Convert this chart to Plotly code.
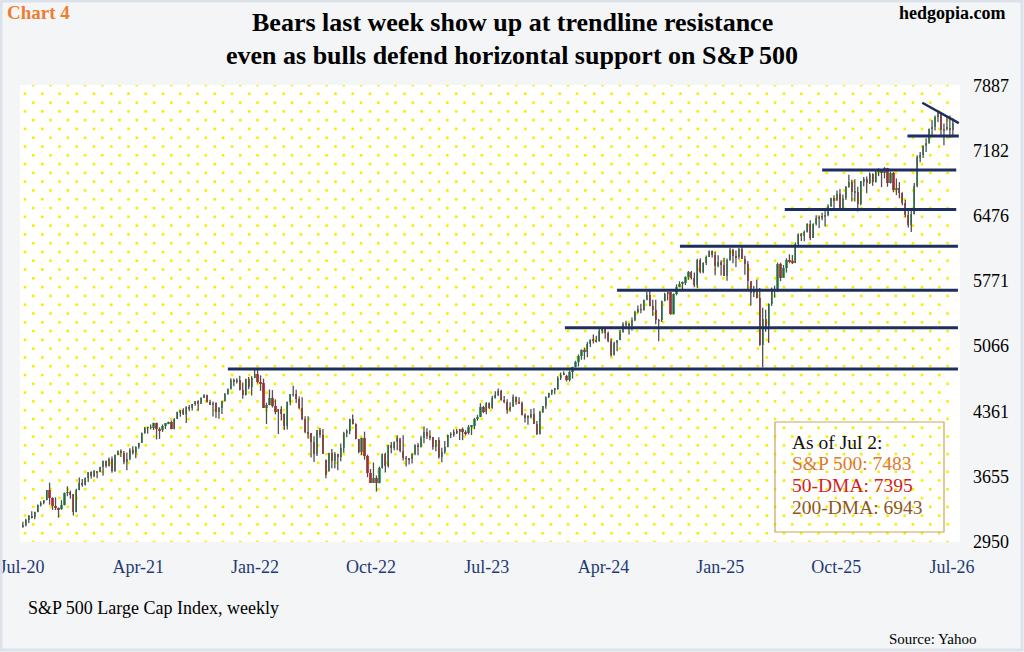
import numpy as np
import pandas as pd
import plotly.graph_objects as go

# S&P 500 weekly bars (week ending Friday), Jul 2020 - Jul 2026
first_week = "2020-07-03"

opens = [
    # 2020
    3105, 3130, 3185, 3224, 3215, 3271, 3351, 3373, 3397, 3508, 3427, 3341, 3319, 3298, 3348, 3477, 3483, 3465, 3270,
    3510, 3585, 3558, 3638, 3699, 3663, 3709, 3703,
    # 2021
    3756, 3825, 3768, 3841, 3714, 3887, 3934, 3907, 3811, 3842, 3943, 3913, 3975, 4020, 4129, 4185, 4180, 4181, 4233,
    4174, 4156, 4204, 4230, 4247, 4166, 4281, 4352, 4370, 4327, 4412, 4395, 4437, 4468, 4442, 4509, 4535, 4459, 4433,
    4455, 4357, 4391, 4471, 4545, 4605, 4697, 4682, 4698, 4595, 4538, 4712, 4620, 4726,
    # 2022
    4766, 4677, 4663, 4398, 4432, 4501, 4419, 4349, 4385, 4329, 4204, 4463, 4543, 4546, 4488, 4392, 4272, 4132, 4123,
    4023, 3901, 4158, 4109, 3838, 3715, 3912, 3825, 3899, 3863, 3962, 4130, 4145, 4280, 4228, 4057, 3924, 4067, 3873,
    3693, 3586, 3640, 3583, 3752, 3901, 3771, 3993, 3965, 4026, 4072, 3934, 3852, 3845,
    # 2023
    3840, 3895, 3999, 3973, 4071, 4136, 4090, 4079, 3970, 4046, 3862, 3917, 3971, 4109, 4105, 4138, 4133, 4169, 4136,
    4124, 4192, 4205, 4282, 4299, 4410, 4348, 4450, 4399, 4505, 4536, 4582, 4478, 4464, 4370, 4406, 4516, 4457, 4450,
    4320, 4288, 4309, 4327, 4224, 4117, 4358, 4415, 4514, 4559, 4595, 4604, 4719, 4755,
    # 2024
    4745, 4697, 4784, 4840, 4891, 4959, 5027, 5006, 5089, 5137, 5124, 5117, 5234, 5254, 5204, 5123, 4967, 5100, 5128,
    5223, 5303, 5305, 5278, 5347, 5431, 5465, 5460, 5567, 5615, 5505, 5459, 5346, 5344, 5554, 5634, 5648, 5408, 5626,
    5703, 5738, 5751, 5815, 5865, 5808, 5729, 5995, 5870, 5969, 6032, 6090, 6051, 5931,
    # 2025
    5971, 5942, 5827, 5997, 6101, 6041, 6026, 6115, 6013, 5955, 5770, 5639, 5668, 5581, 5074, 5363, 5283, 5525, 5687,
    5660, 5958, 5802, 5912, 6000, 5977, 5968, 6173, 6279, 6260, 6297, 6389, 6238, 6389, 6450, 6467, 6460, 6482, 6584,
    6664, 6644, 6716, 6553, 6664, 6792, 6840, 6729, 6734,
    # Nov 2025 - Jul 2026
    6603, 6849, 6870, 6830, 6930, 6840, 6950, 6960, 6940, 6990, 6830, 6935, 6760, 6780, 6720, 6610, 6480, 6380, 6500,
    6800, 7110, 7130, 7230, 7260, 7410, 7440, 7550, 7590, 7400, 7420, 7430, 7400,
]

highs = [
    3165, 3198, 3238, 3280, 3272, 3352, 3387, 3399, 3509, 3588, 3430, 3429, 3320, 3398, 3482, 3550, 3502, 3466, 3521,
    3645, 3628, 3644, 3699, 3712, 3726, 3712, 3760,
    3827, 3828, 3861, 3870, 3894, 3935, 3950, 3931, 3914, 3960, 3983, 3981, 4020, 4130, 4191, 4195, 4218, 4238, 4238,
    4187, 4218, 4233, 4249, 4261, 4286, 4355, 4372, 4393, 4415, 4429, 4440, 4468, 4480, 4513, 4545, 4540, 4486, 4465,
    4457, 4407, 4475, 4559, 4608, 4718, 4714, 4718, 4744, 4672, 4713, 4731, 4740, 4808,
    4818, 4749, 4714, 4453, 4596, 4590, 4490, 4385, 4416, 4337, 4465, 4546, 4637, 4593, 4521, 4513, 4308, 4307, 4124,
    4090, 4158, 4180, 4169, 3838, 3913, 3951, 3919, 3900, 4013, 4140, 4167, 4280, 4325, 4230, 4062, 4076, 4140, 3891,
    3736, 3807, 3666, 3762, 3902, 3911, 3993, 4029, 4034, 4100, 4052, 4101, 3877, 3850,
    3906, 4004, 4016, 4095, 4195, 4176, 4156, 4081, 4049, 4079, 3965, 4039, 4110, 4133, 4163, 4170, 4170, 4185, 4155,
    4213, 4212, 4290, 4322, 4448, 4420, 4458, 4456, 4528, 4578, 4607, 4594, 4527, 4490, 4458, 4541, 4520, 4511, 4467,
    4338, 4317, 4385, 4394, 4256, 4366, 4418, 4521, 4560, 4596, 4609, 4739, 4779, 4793,
    4755, 4802, 4843, 4907, 4975, 5030, 5048, 5111, 5140, 5190, 5179, 5262, 5265, 5264, 5225, 5149, 5114, 5128, 5239,
    5325, 5341, 5316, 5376, 5447, 5506, 5524, 5570, 5655, 5669, 5566, 5566, 5360, 5556, 5643, 5651, 5651, 5636, 5734,
    5767, 5765, 5822, 5878, 5878, 5862, 6012, 6017, 5972, 6045, 6099, 6100, 6086, 6050,
    5994, 6022, 6014, 6128, 6120, 6101, 6127, 6147, 6043, 5986, 5759, 5715, 5787, 5695, 5482, 5460, 5528, 5700, 5720,
    5969, 5968, 5944, 6016, 6059, 6051, 6188, 6284, 6290, 6316, 6395, 6427, 6395, 6481, 6480, 6508, 6532, 6601, 6671,
    6699, 6750, 6765, 6706, 6799, 6920, 6866, 6870, 6790,
    6853, 6895, 6901, 6945, 6935, 6960, 6990, 6975, 7002, 6995, 6955, 6950, 6880, 6840, 6730, 6650, 6560, 6540, 6830,
    7130, 7165, 7240, 7315, 7420, 7510, 7560, 7600, 7600, 7475, 7560, 7560, 7530,
]

lows = [
    3100, 3115, 3152, 3200, 3192, 3268, 3329, 3355, 3397, 3350, 3293, 3292, 3209, 3294, 3342, 3441, 3415, 3233, 3268,
    3506, 3545, 3558, 3594, 3633, 3647, 3636, 3700,
    3663, 3749, 3764, 3694, 3705, 3886, 3865, 3786, 3723, 3830, 3894, 3853, 3955, 4020, 4118, 4118, 4165, 4157, 4056,
    4061, 4137, 4168, 4220, 4165, 4165, 4278, 4300, 4321, 4233, 4360, 4368, 4420, 4367, 4441, 4505, 4456, 4429, 4305,
    4289, 4279, 4330, 4465, 4540, 4595, 4630, 4660, 4585, 4495, 4532, 4600, 4531, 4720,
    4662, 4582, 4395, 4222, 4425, 4401, 4327, 4115, 4260, 4157, 4162, 4425, 4521, 4450, 4382, 4267, 4124, 4063, 3859,
    3811, 3876, 4074, 3901, 3637, 3705, 3743, 3743, 3722, 3820, 3913, 4079, 4112, 4218, 4057, 3906, 3886, 3837, 3647,
    3584, 3585, 3491, 3580, 3740, 3698, 3751, 3906, 3938, 3938, 3918, 3828, 3764, 3784,
    3795, 3885, 3885, 3969, 4015, 4060, 4048, 3943, 3928, 3847, 3808, 3901, 3971, 4069, 4086, 4114, 4049, 4048, 4099,
    4109, 4104, 4166, 4258, 4297, 4341, 4328, 4384, 4389, 4500, 4526, 4474, 4448, 4335, 4356, 4414, 4431, 4448, 4316,
    4238, 4216, 4283, 4223, 4104, 4108, 4342, 4388, 4505, 4537, 4546, 4593, 4699, 4751,
    4682, 4682, 4714, 4835, 4845, 4918, 4920, 4946, 5057, 5094, 5104, 5114, 5203, 5146, 5107, 4953, 4963, 5011, 5128,
    5211, 5257, 5191, 5234, 5335, 5420, 5420, 5447, 5562, 5497, 5391, 5303, 5119, 5327, 5550, 5560, 5403, 5406, 5615,
    5703, 5674, 5726, 5783, 5786, 5703, 5697, 5853, 5853, 5944, 6030, 6024, 5832, 5920,
    5829, 5825, 5773, 5990, 5962, 5923, 6003, 6008, 5837, 5667, 5505, 5598, 5581, 5069, 4835, 5220, 5101, 5500, 5590,
    5650, 5768, 5809, 5861, 5963, 5953, 5963, 6150, 6202, 6201, 6295, 6212, 6235, 6372, 6343, 6427, 6360, 6471, 6570,
    6551, 6635, 6550, 6541, 6646, 6780, 6631, 6631, 6521,
    6590, 6795, 6720, 6820, 6800, 6835, 6905, 6785, 6880, 6790, 6825, 6730, 6700, 6665, 6590, 6460, 6350, 6300, 6490,
    6785, 7055, 7100, 7165, 7255, 7350, 7400, 7490, 7350, 7240, 7400, 7320, 7325,
]

closes = [
    3130, 3185, 3224, 3215, 3271, 3351, 3373, 3397, 3508, 3427, 3341, 3319, 3298, 3348, 3477, 3483, 3465, 3270, 3510,
    3585, 3558, 3638, 3699, 3663, 3709, 3703, 3756,
    3825, 3768, 3841, 3714, 3887, 3934, 3907, 3811, 3842, 3943, 3913, 3975, 4020, 4129, 4185, 4180, 4181, 4233, 4174,
    4156, 4204, 4230, 4247, 4166, 4281, 4352, 4370, 4327, 4412, 4395, 4437, 4468, 4442, 4509, 4535, 4459, 4433, 4455,
    4357, 4391, 4471, 4545, 4605, 4697, 4682, 4698, 4595, 4538, 4712, 4620, 4726, 4766,
    4677, 4663, 4398, 4432, 4501, 4419, 4349, 4385, 4329, 4204, 4463, 4543, 4546, 4488, 4392, 4272, 4132, 4123, 4023,
    3901, 4158, 4109, 3901, 3675, 3912, 3825, 3899, 3863, 3962, 4130, 4145, 4280, 4228, 4057, 3924, 4067, 3873, 3693,
    3586, 3640, 3583, 3752, 3901, 3771, 3993, 3965, 4026, 4072, 3934, 3852, 3845, 3840,
    3895, 3999, 3973, 4071, 4136, 4090, 4079, 3970, 4046, 3862, 3917, 3971, 4109, 4105, 4138, 4133, 4169, 4136, 4124,
    4192, 4205, 4282, 4299, 4410, 4348, 4450, 4399, 4505, 4536, 4582, 4478, 4464, 4370, 4406, 4516, 4457, 4450, 4320,
    4288, 4309, 4327, 4224, 4117, 4358, 4415, 4514, 4559, 4595, 4604, 4719, 4755, 4770,
    4697, 4784, 4840, 4891, 4959, 5027, 5006, 5089, 5137, 5124, 5117, 5234, 5254, 5204, 5123, 4967, 5100, 5128, 5223,
    5303, 5305, 5278, 5347, 5431, 5465, 5460, 5567, 5615, 5505, 5459, 5346, 5344, 5554, 5634, 5648, 5408, 5626, 5703,
    5738, 5751, 5815, 5865, 5808, 5729, 5995, 5870, 5969, 6032, 6090, 6051, 5931, 5971,
    5942, 5827, 5997, 6101, 6041, 6026, 6115, 6013, 5955, 5770, 5639, 5668, 5581, 5074, 5363, 5283, 5525, 5687, 5660,
    5958, 5802, 5912, 6000, 5977, 5968, 6173, 6279, 6260, 6297, 6389, 6238, 6389, 6450, 6467, 6460, 6482, 6584, 6664,
    6644, 6716, 6553, 6664, 6792, 6840, 6729, 6734, 6603,
    6849, 6870, 6830, 6930, 6840, 6950, 6960, 6940, 6990, 6830, 6935, 6760, 6780, 6720, 6610, 6480, 6380, 6500, 6800,
    7110, 7130, 7230, 7260, 7410, 7440, 7550, 7590, 7400, 7420, 7430, 7400, 7483,
]

# support / resistance lines drawn on the chart
level_values = [4818, 5265, 5670, 6147, 6545, 6970, 7338]
level_starts = ["2021-10-29", "2024-01-01", "2024-05-03", "2024-09-28", "2025-06-02", "2025-08-29", "2026-03-18"]
level_ends = ["2026-07-15", "2026-07-15", "2026-07-15", "2026-07-15", "2026-07-11", "2026-07-11", "2026-07-17"]
trend_dates = ["2026-04-22", "2026-07-17"]
trend_values = [7699, 7479]

y_ticks = [2950, 3655, 4361, 5066, 5771, 6476, 7182, 7887]
x_tick_dates = ["2020-07-01", "2021-04-01", "2022-01-01", "2022-10-01", "2023-07-01",
                "2024-04-01", "2025-01-01", "2025-10-01", "2026-07-01"]
x_tick_labels = ["Jul-20", "Apr-21", "Jan-22", "Oct-22", "Jul-23", "Apr-24", "Jan-25", "Oct-25", "Jul-26"]

box_lines = ["As of Jul 2:", "S&P 500: 7483", "50-DMA: 7395", "200-DMA: 6943"]
box_colors = ["#111111", "#e0782e", "#d21f26", "#8e5622"]

FONT = "Liberation Serif"
W, H = 1024, 652
L, R, T, B = 20, 960, 85, 542  # plot area in pixels

def px_x(p):
    return (p - L) / (R - L)

def px_y(p):
    return (B - p) / (B - T)

dates = pd.date_range(first_week, periods=len(closes), freq="7D")

# yellow dotted background (staggered grid)
dot_x, dot_y = [], []
n_rows = 53
for r in range(n_rows):
    py = T + r * (B - T) / (n_rows - 1)
    px = 33.3 if r % 2 == 0 else 25.0
    while px <= 952:
        dot_x.append(px_x(px))
        dot_y.append(px_y(py))
        px += 17.25

dots = go.Scatter(x=dot_x, y=dot_y, mode="markers", xaxis="x", yaxis="y",
                  marker=dict(symbol="square", size=2.6, color="#f5ee00", line=dict(width=0)),
                  hoverinfo="skip", showlegend=False)

# high-low wicks
wx, wy = [], []
for d, h, l in zip(dates, highs, lows):
    wx += [d, d, None]
    wy += [l, h, None]
wicks = go.Scatter(x=wx, y=wy, mode="lines", xaxis="x2", yaxis="y2",
                   line=dict(color="#505050", width=1.3), hoverinfo="skip", showlegend=False)

# open-close bodies
body_base = [min(o, c) for o, c in zip(opens, closes)]
body_len = [abs(c - o) for o, c in zip(opens, closes)]
body_col = ["#3cba6f" if c >= o else "#f03a3a" for o, c in zip(opens, closes)]
bodies = go.Bar(x=dates, y=body_len, base=body_base, xaxis="x2", yaxis="y2",
                width=5.2 * 86400000, marker=dict(color=body_col, line=dict(width=0)),
                hoverinfo="skip", showlegend=False)

fig = go.Figure(data=[dots, wicks, bodies])

shapes = []
for v, s, e in zip(level_values, level_starts, level_ends):
    shapes.append(dict(type="line", xref="x2", yref="y2", x0=s, x1=e, y0=v, y1=v,
                       line=dict(color="#1d2f5f", width=3)))
shapes.append(dict(type="line", xref="x2", yref="y2", x0=trend_dates[0], x1=trend_dates[1],
                   y0=trend_values[0], y1=trend_values[1], line=dict(color="#1d2f5f", width=2.5)))
# info box
shapes.append(dict(type="rect", xref="paper", yref="paper", x0=px_x(775), x1=px_x(944),
                   y0=px_y(532), y1=px_y(422), line=dict(color="#c9a65e", width=1.2)))
# outer frame
shapes.append(dict(type="rect", xref="paper", yref="paper", x0=px_x(1), x1=px_x(1022),
                   y0=px_y(650), y1=px_y(1), line=dict(color="#dce2ea", width=3)))

ann = [
    dict(text="<b>Bears last week show up at trendline resistance</b>", x=px_x(512), y=px_y(22),
         font=dict(size=26, color="black")),
    dict(text="<b>even as bulls defend horizontal support on S&P 500</b>", x=px_x(512), y=px_y(55),
         font=dict(size=26, color="black")),
    dict(text="<b>Chart 4</b>", x=px_x(5), y=px_y(13), xanchor="left",
         font=dict(size=19, color="#ee7d31")),
    dict(text="<b>hedgopia.com</b>", x=px_x(1008), y=px_y(13), xanchor="right",
         font=dict(size=18, color="black")),
    dict(text="S&P 500 Large Cap Index, weekly", x=px_x(26), y=px_y(608), xanchor="left",
         font=dict(size=18, color="black")),
    dict(text="Source: Yahoo", x=px_x(979), y=px_y(639), xanchor="right",
         font=dict(size=15, color="black")),
]
for txt, col, py in zip(box_lines, box_colors, [442, 463, 485, 507]):
    ann.append(dict(text=txt, x=px_x(790), y=px_y(py), xanchor="left", font=dict(size=19.5, color=col)))
for a in ann:
    a.update(xref="paper", yref="paper", showarrow=False, yanchor=a.get("yanchor", "middle"))
    a["font"]["family"] = FONT

fig.update_layout(
    width=W, height=H,
    margin=dict(l=L, r=W - R, t=T, b=H - B, pad=0, autoexpand=False),
    paper_bgcolor="#f4f5f6",
    plot_bgcolor="white",
    showlegend=False,
    bargap=0,
    font=dict(family=FONT, size=18, color="black"),
    xaxis=dict(range=[0, 1], visible=False, fixedrange=True, automargin=False),
    yaxis=dict(range=[0, 1], visible=False, fixedrange=True, automargin=False),
    xaxis2=dict(overlaying="x", type="date", range=["2020-06-26 07:00", "2026-07-19 20:00"],
                tickmode="array", tickvals=x_tick_dates, ticktext=x_tick_labels,
                showgrid=False, zeroline=False, showline=False, ticks="", automargin=False,
                tickfont=dict(family=FONT, size=18, color="#1f3a75"),
                ticklabelstandoff=12, ticklabeloverflow="allow"),
    yaxis2=dict(overlaying="y", side="right", range=[2946, 7891],
                tickmode="array", tickvals=y_ticks, ticktext=[str(v) for v in y_ticks],
                showgrid=False, zeroline=False, showline=False, ticks="", automargin=False,
                tickfont=dict(family=FONT, size=18, color="black"),
                ticklabelstandoff=12),
    shapes=shapes,
    annotations=ann,
)

# the page body has a default 8px margin; remove it so the figure fills the window
fig.write_html("out.html", config={"displayModeBar": False},
               post_script="document.body.style.margin='0';")
